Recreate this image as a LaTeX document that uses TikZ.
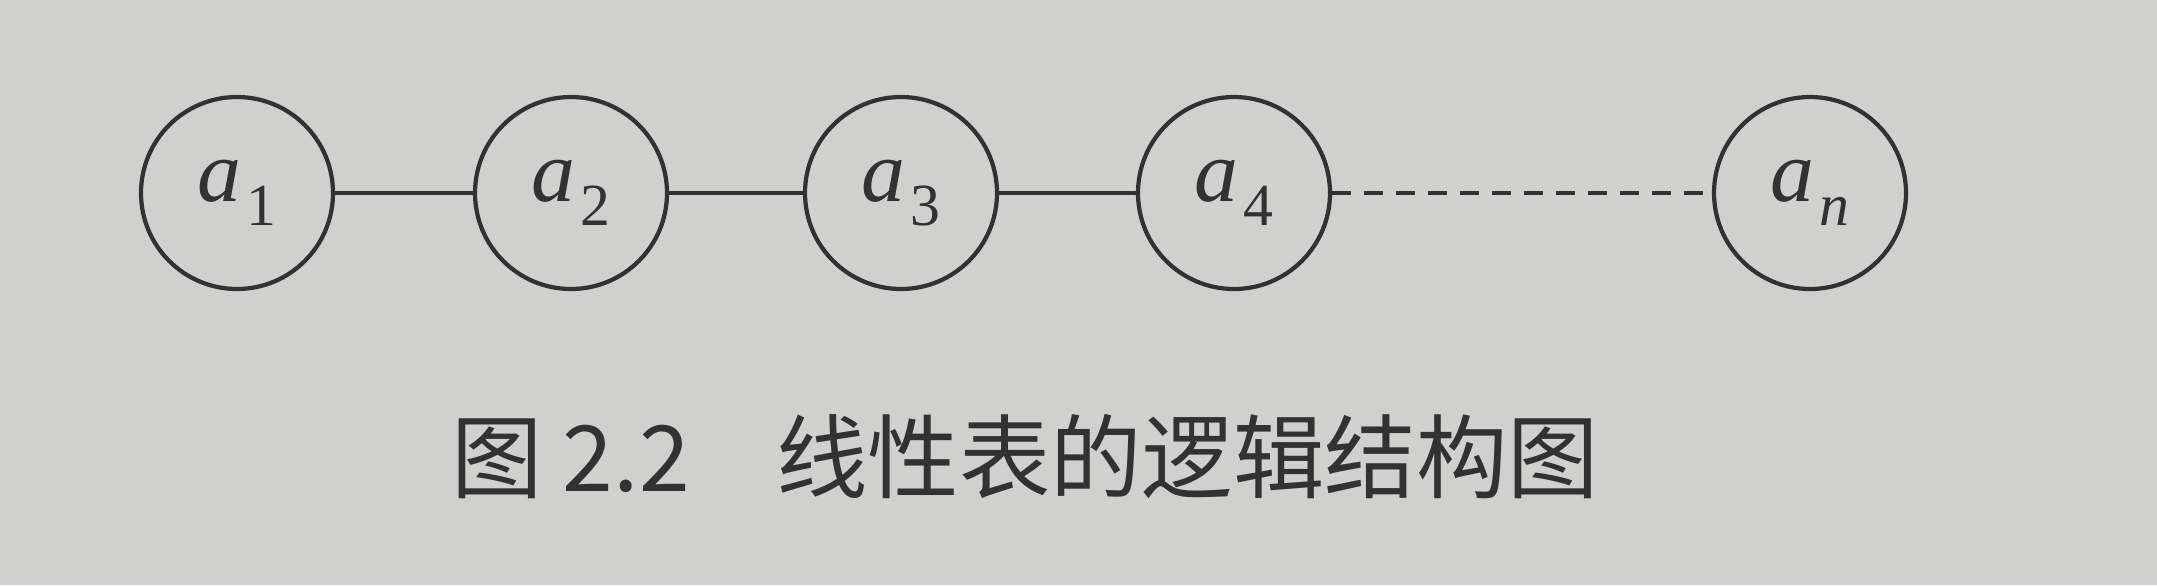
\documentclass[tikz,border=0pt]{standalone}
\usepackage{fontspec}
\setmainfont{Liberation Serif}
\newfontfamily\cjk{Noto Sans CJK SC}
\usetikzlibrary{positioning}
\definecolor{paper}{RGB}{208,208,206}
\definecolor{ink}{RGB}{50,50,50}
\newcommand{\elem}[1]{\textit{a}\kern0.06em\raisebox{-0.6ex}{\fontsize{17}{18}\selectfont #1}}
\tikzset{
  elemnode/.style={circle, draw=ink, line width=1.2pt, minimum size=1.92cm, inner sep=0pt, font=\fontsize{25}{27}\selectfont, text=ink},
  link/.style={draw=ink, line width=1.1pt}
}
\begin{document}
\begin{tikzpicture}
         \fill[paper] (0,0) rectangle (21.57,-5.85);
         \useasboundingbox (0,0) rectangle (21.57,-5.85);
         \node[elemnode] (A1) at (2.37, -1.93) {\elem{1}};
         \node[elemnode] (A2) at (5.71, -1.93) {\elem{2}};
         \node[elemnode] (A3) at (9.01, -1.93) {\elem{3}};
         \node[elemnode] (A4) at (12.34, -1.93) {\elem{4}};
         \node[elemnode] (AN) at (18.10, -1.93) {\elem{\textit{n}}};
         \draw [link] (A1) -- (A2);
         \draw [link] (A2) -- (A3);
         \draw [link] (A3) -- (A4);
         \draw [link, dash pattern=on 0.19cm off 0.13cm] (A4) -- (AN);
         \node[text=ink, font=\cjk\fontsize{26}{28}\selectfont] (CAP) at (10.25, -4.57) {图 2.2\hspace{0.95em}线性表的逻辑结构图};
 \end{tikzpicture}
\end{document}
